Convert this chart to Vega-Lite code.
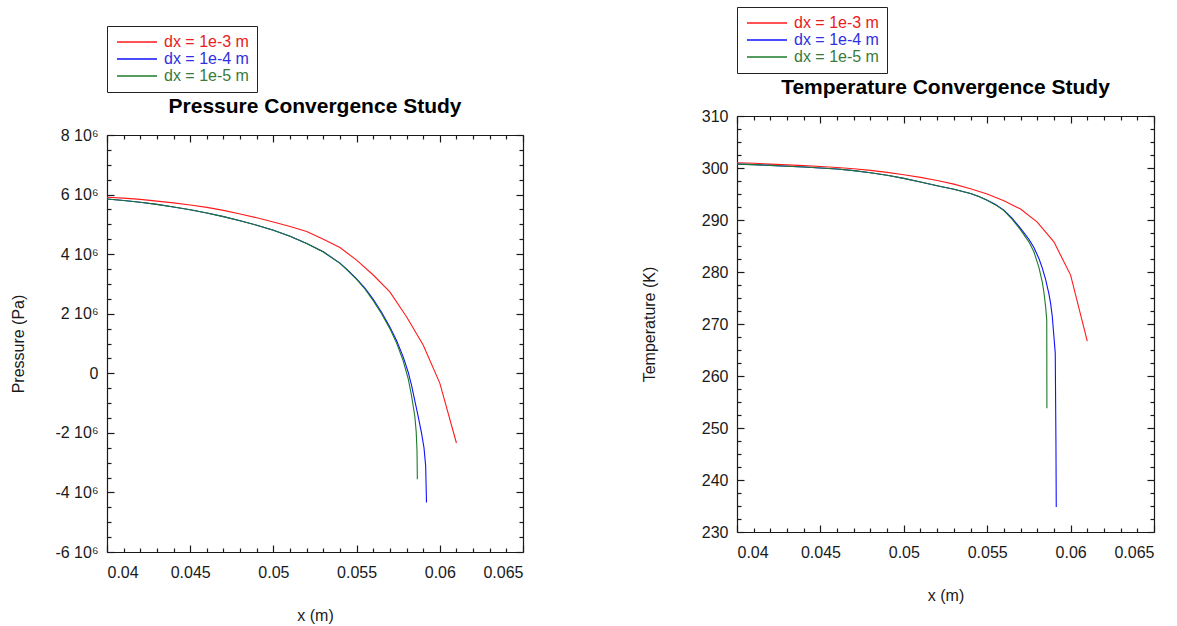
{
  "$schema": "https://vega.github.io/schema/vega-lite/v6.json",
  "background": "white",
  "padding": {"left": 10, "top": 6, "right": 5, "bottom": 5},
  "spacing": 117,
  "resolve": {"scale": {"color": "independent"}, "legend": {"color": "independent"}},
  "config": {
    "view": {"stroke": null},
    "font": "Liberation Sans",
    "axis": {
      "grid": false,
      "labelFont": "Liberation Sans", "labelFontSize": 16, "labelColor": "#1a1a1a",
      "titleFont": "Liberation Sans", "titleFontSize": 16, "titleFontWeight": "normal", "titleColor": "#1a1a1a",
      "domainColor": "#1a1a1a", "domainWidth": 1.2, "tickColor": "#1a1a1a", "tickWidth": 1.2
    },
    "title": {"font": "Liberation Sans", "fontSize": 21, "fontWeight": "bold", "color": "#000000", "frame": "group", "anchor": "middle", "baseline": "alphabetic", "offset": 10},
    "legend": {
      "orient": "none", "legendX": 0, "direction": "vertical",
      "strokeColor": "#222222", "fillColor": "#ffffff", "padding": 8,
      "symbolType": "M-5,0H5", "symbolSize": 64, "symbolStrokeWidth": 1.4, "symbolOffset": 14,
      "labelFont": "Liberation Sans", "labelFontSize": 16, "labelOffset": 19, "rowPadding": 1
    }
  },
  "datasets": {
    "pressure": [
      {"x": 0.040, "p": 5910000, "s": "dx = 1e-3 m"},
      {"x": 0.041, "p": 5880000, "s": "dx = 1e-3 m"},
      {"x": 0.042, "p": 5840000, "s": "dx = 1e-3 m"},
      {"x": 0.043, "p": 5780000, "s": "dx = 1e-3 m"},
      {"x": 0.044, "p": 5720000, "s": "dx = 1e-3 m"},
      {"x": 0.045, "p": 5650000, "s": "dx = 1e-3 m"},
      {"x": 0.046, "p": 5570000, "s": "dx = 1e-3 m"},
      {"x": 0.047, "p": 5470000, "s": "dx = 1e-3 m"},
      {"x": 0.048, "p": 5350000, "s": "dx = 1e-3 m"},
      {"x": 0.049, "p": 5220000, "s": "dx = 1e-3 m"},
      {"x": 0.050, "p": 5080000, "s": "dx = 1e-3 m"},
      {"x": 0.051, "p": 4930000, "s": "dx = 1e-3 m"},
      {"x": 0.052, "p": 4760000, "s": "dx = 1e-3 m"},
      {"x": 0.053, "p": 4500000, "s": "dx = 1e-3 m"},
      {"x": 0.054, "p": 4220000, "s": "dx = 1e-3 m"},
      {"x": 0.055, "p": 3800000, "s": "dx = 1e-3 m"},
      {"x": 0.056, "p": 3300000, "s": "dx = 1e-3 m"},
      {"x": 0.057, "p": 2730000, "s": "dx = 1e-3 m"},
      {"x": 0.058, "p": 1900000, "s": "dx = 1e-3 m"},
      {"x": 0.059, "p": 950000, "s": "dx = 1e-3 m"},
      {"x": 0.060, "p": -330000, "s": "dx = 1e-3 m"},
      {"x": 0.061, "p": -2340000, "s": "dx = 1e-3 m"},

      {"x": 0.040, "p": 5850000, "s": "dx = 1e-4 m"},
      {"x": 0.041, "p": 5800000, "s": "dx = 1e-4 m"},
      {"x": 0.042, "p": 5740000, "s": "dx = 1e-4 m"},
      {"x": 0.043, "p": 5670000, "s": "dx = 1e-4 m"},
      {"x": 0.044, "p": 5580000, "s": "dx = 1e-4 m"},
      {"x": 0.045, "p": 5490000, "s": "dx = 1e-4 m"},
      {"x": 0.046, "p": 5380000, "s": "dx = 1e-4 m"},
      {"x": 0.047, "p": 5260000, "s": "dx = 1e-4 m"},
      {"x": 0.048, "p": 5120000, "s": "dx = 1e-4 m"},
      {"x": 0.049, "p": 4970000, "s": "dx = 1e-4 m"},
      {"x": 0.050, "p": 4800000, "s": "dx = 1e-4 m"},
      {"x": 0.051, "p": 4600000, "s": "dx = 1e-4 m"},
      {"x": 0.052, "p": 4360000, "s": "dx = 1e-4 m"},
      {"x": 0.053, "p": 4080000, "s": "dx = 1e-4 m"},
      {"x": 0.054, "p": 3700000, "s": "dx = 1e-4 m"},
      {"x": 0.0545, "p": 3450000, "s": "dx = 1e-4 m"},
      {"x": 0.055, "p": 3170000, "s": "dx = 1e-4 m"},
      {"x": 0.0555, "p": 2860000, "s": "dx = 1e-4 m"},
      {"x": 0.056, "p": 2480000, "s": "dx = 1e-4 m"},
      {"x": 0.0565, "p": 2050000, "s": "dx = 1e-4 m"},
      {"x": 0.057, "p": 1550000, "s": "dx = 1e-4 m"},
      {"x": 0.0574, "p": 1100000, "s": "dx = 1e-4 m"},
      {"x": 0.0578, "p": 550000, "s": "dx = 1e-4 m"},
      {"x": 0.0581, "p": 40000, "s": "dx = 1e-4 m"},
      {"x": 0.0583, "p": -400000, "s": "dx = 1e-4 m"},
      {"x": 0.0585, "p": -930000, "s": "dx = 1e-4 m"},
      {"x": 0.0587, "p": -1450000, "s": "dx = 1e-4 m"},
      {"x": 0.0589, "p": -2000000, "s": "dx = 1e-4 m"},
      {"x": 0.05905, "p": -2500000, "s": "dx = 1e-4 m"},
      {"x": 0.05915, "p": -3100000, "s": "dx = 1e-4 m"},
      {"x": 0.0592, "p": -4340000, "s": "dx = 1e-4 m"},

      {"x": 0.040, "p": 5850000, "s": "dx = 1e-5 m"},
      {"x": 0.041, "p": 5800000, "s": "dx = 1e-5 m"},
      {"x": 0.042, "p": 5740000, "s": "dx = 1e-5 m"},
      {"x": 0.043, "p": 5670000, "s": "dx = 1e-5 m"},
      {"x": 0.044, "p": 5580000, "s": "dx = 1e-5 m"},
      {"x": 0.045, "p": 5490000, "s": "dx = 1e-5 m"},
      {"x": 0.046, "p": 5380000, "s": "dx = 1e-5 m"},
      {"x": 0.047, "p": 5260000, "s": "dx = 1e-5 m"},
      {"x": 0.048, "p": 5120000, "s": "dx = 1e-5 m"},
      {"x": 0.049, "p": 4970000, "s": "dx = 1e-5 m"},
      {"x": 0.050, "p": 4800000, "s": "dx = 1e-5 m"},
      {"x": 0.051, "p": 4600000, "s": "dx = 1e-5 m"},
      {"x": 0.052, "p": 4360000, "s": "dx = 1e-5 m"},
      {"x": 0.053, "p": 4070000, "s": "dx = 1e-5 m"},
      {"x": 0.054, "p": 3690000, "s": "dx = 1e-5 m"},
      {"x": 0.0545, "p": 3430000, "s": "dx = 1e-5 m"},
      {"x": 0.055, "p": 3150000, "s": "dx = 1e-5 m"},
      {"x": 0.0555, "p": 2830000, "s": "dx = 1e-5 m"},
      {"x": 0.056, "p": 2440000, "s": "dx = 1e-5 m"},
      {"x": 0.0565, "p": 2000000, "s": "dx = 1e-5 m"},
      {"x": 0.057, "p": 1500000, "s": "dx = 1e-5 m"},
      {"x": 0.0574, "p": 1020000, "s": "dx = 1e-5 m"},
      {"x": 0.0578, "p": 420000, "s": "dx = 1e-5 m"},
      {"x": 0.0581, "p": -180000, "s": "dx = 1e-5 m"},
      {"x": 0.0583, "p": -750000, "s": "dx = 1e-5 m"},
      {"x": 0.0585, "p": -1450000, "s": "dx = 1e-5 m"},
      {"x": 0.05858, "p": -1950000, "s": "dx = 1e-5 m"},
      {"x": 0.05863, "p": -2600000, "s": "dx = 1e-5 m"},
      {"x": 0.05865, "p": -3560000, "s": "dx = 1e-5 m"}
    ],
    "temperature": [
      {"x": 0.040, "t": 301.0, "s": "dx = 1e-3 m"},
      {"x": 0.041, "t": 300.9, "s": "dx = 1e-3 m"},
      {"x": 0.042, "t": 300.75, "s": "dx = 1e-3 m"},
      {"x": 0.043, "t": 300.6, "s": "dx = 1e-3 m"},
      {"x": 0.044, "t": 300.45, "s": "dx = 1e-3 m"},
      {"x": 0.045, "t": 300.3, "s": "dx = 1e-3 m"},
      {"x": 0.046, "t": 300.1, "s": "dx = 1e-3 m"},
      {"x": 0.047, "t": 299.85, "s": "dx = 1e-3 m"},
      {"x": 0.048, "t": 299.55, "s": "dx = 1e-3 m"},
      {"x": 0.049, "t": 299.15, "s": "dx = 1e-3 m"},
      {"x": 0.050, "t": 298.7, "s": "dx = 1e-3 m"},
      {"x": 0.051, "t": 298.2, "s": "dx = 1e-3 m"},
      {"x": 0.052, "t": 297.6, "s": "dx = 1e-3 m"},
      {"x": 0.053, "t": 296.9, "s": "dx = 1e-3 m"},
      {"x": 0.054, "t": 296.0, "s": "dx = 1e-3 m"},
      {"x": 0.055, "t": 295.0, "s": "dx = 1e-3 m"},
      {"x": 0.056, "t": 293.7, "s": "dx = 1e-3 m"},
      {"x": 0.057, "t": 292.1, "s": "dx = 1e-3 m"},
      {"x": 0.058, "t": 289.6, "s": "dx = 1e-3 m"},
      {"x": 0.059, "t": 285.8, "s": "dx = 1e-3 m"},
      {"x": 0.060, "t": 279.4, "s": "dx = 1e-3 m"},
      {"x": 0.061, "t": 266.7, "s": "dx = 1e-3 m"},

      {"x": 0.040, "t": 300.75, "s": "dx = 1e-4 m"},
      {"x": 0.041, "t": 300.65, "s": "dx = 1e-4 m"},
      {"x": 0.042, "t": 300.5, "s": "dx = 1e-4 m"},
      {"x": 0.043, "t": 300.35, "s": "dx = 1e-4 m"},
      {"x": 0.044, "t": 300.2, "s": "dx = 1e-4 m"},
      {"x": 0.045, "t": 300.0, "s": "dx = 1e-4 m"},
      {"x": 0.046, "t": 299.8, "s": "dx = 1e-4 m"},
      {"x": 0.047, "t": 299.5, "s": "dx = 1e-4 m"},
      {"x": 0.048, "t": 299.1, "s": "dx = 1e-4 m"},
      {"x": 0.049, "t": 298.6, "s": "dx = 1e-4 m"},
      {"x": 0.050, "t": 298.0, "s": "dx = 1e-4 m"},
      {"x": 0.051, "t": 297.3, "s": "dx = 1e-4 m"},
      {"x": 0.052, "t": 296.6, "s": "dx = 1e-4 m"},
      {"x": 0.053, "t": 295.9, "s": "dx = 1e-4 m"},
      {"x": 0.054, "t": 295.1, "s": "dx = 1e-4 m"},
      {"x": 0.0545, "t": 294.5, "s": "dx = 1e-4 m"},
      {"x": 0.055, "t": 293.8, "s": "dx = 1e-4 m"},
      {"x": 0.0555, "t": 293.0, "s": "dx = 1e-4 m"},
      {"x": 0.056, "t": 291.9, "s": "dx = 1e-4 m"},
      {"x": 0.0565, "t": 290.3, "s": "dx = 1e-4 m"},
      {"x": 0.057, "t": 288.4, "s": "dx = 1e-4 m"},
      {"x": 0.0575, "t": 286.3, "s": "dx = 1e-4 m"},
      {"x": 0.0578, "t": 284.7, "s": "dx = 1e-4 m"},
      {"x": 0.0581, "t": 282.6, "s": "dx = 1e-4 m"},
      {"x": 0.0583, "t": 280.8, "s": "dx = 1e-4 m"},
      {"x": 0.0585, "t": 278.6, "s": "dx = 1e-4 m"},
      {"x": 0.0587, "t": 275.8, "s": "dx = 1e-4 m"},
      {"x": 0.0588, "t": 274.0, "s": "dx = 1e-4 m"},
      {"x": 0.0589, "t": 271.5, "s": "dx = 1e-4 m"},
      {"x": 0.0590, "t": 267.6, "s": "dx = 1e-4 m"},
      {"x": 0.05908, "t": 264.4, "s": "dx = 1e-4 m"},
      {"x": 0.05912, "t": 247.7, "s": "dx = 1e-4 m"},
      {"x": 0.05914, "t": 234.8, "s": "dx = 1e-4 m"},

      {"x": 0.040, "t": 300.75, "s": "dx = 1e-5 m"},
      {"x": 0.041, "t": 300.65, "s": "dx = 1e-5 m"},
      {"x": 0.042, "t": 300.5, "s": "dx = 1e-5 m"},
      {"x": 0.043, "t": 300.35, "s": "dx = 1e-5 m"},
      {"x": 0.044, "t": 300.2, "s": "dx = 1e-5 m"},
      {"x": 0.045, "t": 300.0, "s": "dx = 1e-5 m"},
      {"x": 0.046, "t": 299.8, "s": "dx = 1e-5 m"},
      {"x": 0.047, "t": 299.5, "s": "dx = 1e-5 m"},
      {"x": 0.048, "t": 299.1, "s": "dx = 1e-5 m"},
      {"x": 0.049, "t": 298.6, "s": "dx = 1e-5 m"},
      {"x": 0.050, "t": 298.0, "s": "dx = 1e-5 m"},
      {"x": 0.051, "t": 297.3, "s": "dx = 1e-5 m"},
      {"x": 0.052, "t": 296.6, "s": "dx = 1e-5 m"},
      {"x": 0.053, "t": 295.9, "s": "dx = 1e-5 m"},
      {"x": 0.054, "t": 295.1, "s": "dx = 1e-5 m"},
      {"x": 0.0545, "t": 294.5, "s": "dx = 1e-5 m"},
      {"x": 0.055, "t": 293.8, "s": "dx = 1e-5 m"},
      {"x": 0.0555, "t": 292.9, "s": "dx = 1e-5 m"},
      {"x": 0.056, "t": 291.8, "s": "dx = 1e-5 m"},
      {"x": 0.0565, "t": 290.1, "s": "dx = 1e-5 m"},
      {"x": 0.057, "t": 288.1, "s": "dx = 1e-5 m"},
      {"x": 0.0575, "t": 285.8, "s": "dx = 1e-5 m"},
      {"x": 0.0578, "t": 283.9, "s": "dx = 1e-5 m"},
      {"x": 0.0581, "t": 280.9, "s": "dx = 1e-5 m"},
      {"x": 0.0583, "t": 278.1, "s": "dx = 1e-5 m"},
      {"x": 0.0584, "t": 276.1, "s": "dx = 1e-5 m"},
      {"x": 0.0585, "t": 273.4, "s": "dx = 1e-5 m"},
      {"x": 0.05857, "t": 270.8, "s": "dx = 1e-5 m"},
      {"x": 0.05858, "t": 253.8, "s": "dx = 1e-5 m"}
    ]
  },
  "hconcat": [
    {
      "spacing": 0,
      "vconcat": [
        {"data": {"values": []}, "mark": {"type": "point", "opacity": 0}, "width": 1, "height": 20},
        {
          "width": 416,
          "height": 417,
          "data": {"name": "pressure"},
          "title": {"text": "Pressure Convergence Study"},
          "resolve": {"axis": {"x": "independent", "y": "independent"}},
          "layer": [
            {
              "mark": {"type": "line", "strokeWidth": 1.1},
              "encoding": {
                "x": {"field": "x", "type": "quantitative",
                  "scale": {"domain": [0.04, 0.065], "nice": false, "zero": false},
                  "axis": {"orient": "bottom", "title": "x (m)", "titlePadding": 27, "labelPadding": 19,
                    "values": [0.04,0.041,0.042,0.043,0.044,0.045,0.046,0.047,0.048,0.049,0.05,0.051,0.052,0.053,0.054,0.055,0.056,0.057,0.058,0.059,0.06,0.061,0.062,0.063,0.064,0.065],
                    "labelExpr": "abs(datum.value*200 - round(datum.value*200)) < 0.001 ? '' + datum.value : ''",
                    "tickSize": {"condition": {"test": "abs(datum.value*200 - round(datum.value*200)) < 0.001", "value": -7}, "value": -4}}},
                "y": {"field": "p", "type": "quantitative",
                  "scale": {"domain": [-6000000, 8000000], "nice": false, "zero": false},
                  "axis": {"orient": "left", "title": "Pressure (Pa)", "titlePadding": 28, "labelPadding": 16,
                    "values": [-6000000,-5500000,-5000000,-4500000,-4000000,-3500000,-3000000,-2500000,-2000000,-1500000,-1000000,-500000,0,500000,1000000,1500000,2000000,2500000,3000000,3500000,4000000,4500000,5000000,5500000,6000000,6500000,7000000,7500000,8000000],
                    "labelExpr": "abs(datum.value % 2000000) < 1 ? (datum.value == 0 ? '0' : '' + (datum.value / 1000000) + ' 10⁶') : ''",
                    "tickSize": {"condition": {"test": "abs(datum.value % 2000000) < 1", "value": -7}, "value": -4}}},
                "color": {"field": "s", "type": "nominal",
                  "scale": {"domain": ["dx = 1e-3 m", "dx = 1e-4 m", "dx = 1e-5 m"], "range": ["#ff1a1a", "#1010ff", "#1e7a2a"]},
                  "legend": {"title": null, "legendY": -50,
                    "encode": {
                      "labels": {"update": {"fill": {"signal": "datum.label == 'dx = 1e-3 m' ? '#e82020' : datum.label == 'dx = 1e-4 m' ? '#3030e0' : '#3a7a3a'"}}}}}}
              }
            },
            {
              "mark": {"type": "line", "opacity": 0},
              "encoding": {
                "x": {"field": "x", "type": "quantitative",
                  "axis": {"orient": "top", "title": null, "labels": false,
                    "values": [0.04,0.041,0.042,0.043,0.044,0.045,0.046,0.047,0.048,0.049,0.05,0.051,0.052,0.053,0.054,0.055,0.056,0.057,0.058,0.059,0.06,0.061,0.062,0.063,0.064,0.065],
                    "tickSize": {"condition": {"test": "abs(datum.value*200 - round(datum.value*200)) < 0.001", "value": -7}, "value": -4}}},
                "y": {"field": "p", "type": "quantitative",
                  "axis": {"orient": "right", "title": null, "labels": false,
                    "values": [-6000000,-5500000,-5000000,-4500000,-4000000,-3500000,-3000000,-2500000,-2000000,-1500000,-1000000,-500000,0,500000,1000000,1500000,2000000,2500000,3000000,3500000,4000000,4500000,5000000,5500000,6000000,6500000,7000000,7500000,8000000],
                    "tickSize": {"condition": {"test": "abs(datum.value % 2000000) < 1", "value": -7}, "value": -4}}},
                "detail": {"field": "s"}
              }
            }
          ]
        }
      ]
    },
    {
      "spacing": 0,
      "vconcat": [
        {"data": {"values": []}, "mark": {"type": "point", "opacity": 0}, "width": 1, "height": 1},
        {
          "width": 417,
          "height": 416,
          "data": {"name": "temperature"},
          "title": {"text": "Temperature Convergence Study"},
          "resolve": {"axis": {"x": "independent", "y": "independent"}},
          "layer": [
            {
              "mark": {"type": "line", "strokeWidth": 1.1},
              "encoding": {
                "x": {"field": "x", "type": "quantitative",
                  "scale": {"domain": [0.04, 0.065], "nice": false, "zero": false},
                  "axis": {"orient": "bottom", "title": "x (m)", "titlePadding": 27, "labelPadding": 19,
                    "values": [0.04,0.041,0.042,0.043,0.044,0.045,0.046,0.047,0.048,0.049,0.05,0.051,0.052,0.053,0.054,0.055,0.056,0.057,0.058,0.059,0.06,0.061,0.062,0.063,0.064,0.065],
                    "labelExpr": "abs(datum.value*200 - round(datum.value*200)) < 0.001 ? '' + datum.value : ''",
                    "tickSize": {"condition": {"test": "abs(datum.value*200 - round(datum.value*200)) < 0.001", "value": -7}, "value": -4}}},
                "y": {"field": "t", "type": "quantitative",
                  "scale": {"domain": [230, 310], "nice": false, "zero": false},
                  "axis": {"orient": "left", "title": "Temperature (K)", "titlePadding": 44, "labelPadding": 16,
                    "values": [230,232.5,235,237.5,240,242.5,245,247.5,250,252.5,255,257.5,260,262.5,265,267.5,270,272.5,275,277.5,280,282.5,285,287.5,290,292.5,295,297.5,300,302.5,305,307.5,310],
                    "labelExpr": "datum.value % 10 == 0 ? '' + datum.value : ''",
                    "tickSize": {"condition": {"test": "datum.value % 10 == 0", "value": -7}, "value": -4}}},
                "color": {"field": "s", "type": "nominal",
                  "scale": {"domain": ["dx = 1e-3 m", "dx = 1e-4 m", "dx = 1e-5 m"], "range": ["#ff1a1a", "#1010ff", "#1e7a2a"]},
                  "legend": {"title": null, "legendY": -69,
                    "encode": {
                      "labels": {"update": {"fill": {"signal": "datum.label == 'dx = 1e-3 m' ? '#e82020' : datum.label == 'dx = 1e-4 m' ? '#3030e0' : '#3a7a3a'"}}}}}}
              }
            },
            {
              "mark": {"type": "line", "opacity": 0},
              "encoding": {
                "x": {"field": "x", "type": "quantitative",
                  "axis": {"orient": "top", "title": null, "labels": false,
                    "values": [0.04,0.041,0.042,0.043,0.044,0.045,0.046,0.047,0.048,0.049,0.05,0.051,0.052,0.053,0.054,0.055,0.056,0.057,0.058,0.059,0.06,0.061,0.062,0.063,0.064,0.065],
                    "tickSize": {"condition": {"test": "abs(datum.value*200 - round(datum.value*200)) < 0.001", "value": -7}, "value": -4}}},
                "y": {"field": "t", "type": "quantitative",
                  "axis": {"orient": "right", "title": null, "labels": false,
                    "values": [230,232.5,235,237.5,240,242.5,245,247.5,250,252.5,255,257.5,260,262.5,265,267.5,270,272.5,275,277.5,280,282.5,285,287.5,290,292.5,295,297.5,300,302.5,305,307.5,310],
                    "tickSize": {"condition": {"test": "datum.value % 10 == 0", "value": -7}, "value": -4}}},
                "detail": {"field": "s"}
              }
            }
          ]
        }
      ]
    }
  ]
}
